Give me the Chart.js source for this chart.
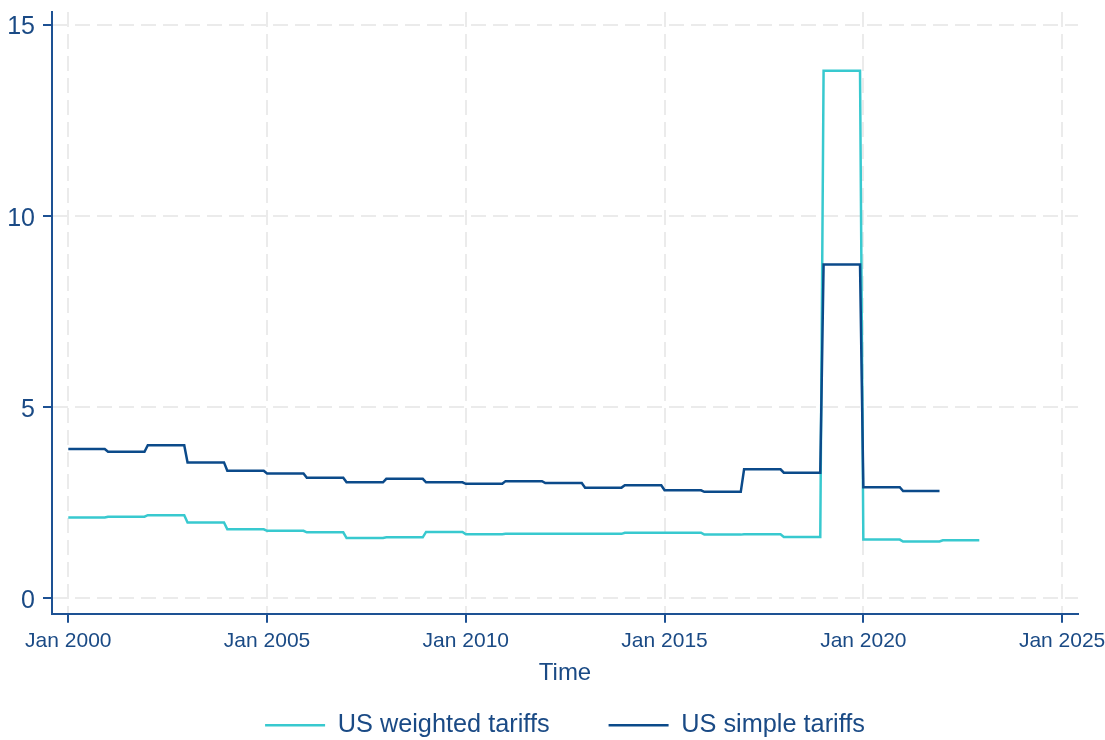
<!DOCTYPE html>
<html>
<head>
<meta charset="utf-8">
<script src="https://cdn.jsdelivr.net/npm/chart.js@4.4.1/dist/chart.umd.min.js"></script>
<style>
    html, body { margin: 0; padding: 0; background: #ffffff; }
    #wrap { width: 1105px; height: 740px; }
</style>
</head>
<body>
<div id="wrap"><canvas id="chart"></canvas></div>
<script>
// yearly tariff rates (%), one value per calendar year
const weightedYears = [2000, 2001, 2002, 2003, 2004, 2005, 2006, 2007, 2008, 2009, 2010, 2011,
    2012, 2013, 2014, 2015, 2016, 2017, 2018, 2019, 2020, 2021, 2022];
const weightedTariffs = [2.10, 2.12, 2.16, 1.97, 1.79, 1.75, 1.71, 1.56, 1.58, 1.72, 1.66, 1.67,
    1.67, 1.67, 1.70, 1.70, 1.65, 1.66, 1.59, 13.79, 1.52, 1.47, 1.50];

const simpleYears = [2000, 2001, 2002, 2003, 2004, 2005, 2006, 2007, 2008, 2009, 2010, 2011,
    2012, 2013, 2014, 2015, 2016, 2017, 2018, 2019, 2020, 2021];
const simpleTariffs = [3.89, 3.82, 3.99, 3.54, 3.32, 3.25, 3.14, 3.02, 3.11, 3.02, 2.98, 3.05,
    3.00, 2.88, 2.94, 2.81, 2.77, 3.36, 3.27, 8.72, 2.89, 2.79];

const xTicks = [2000, 2005, 2010, 2015, 2020, 2025];
const yTicks = [0, 5, 10, 15];

const axisBlue = "#1d5193";
const textBlue = "#1a4a85";
const gridGrey = "#ebebeb";
const fontFamily = "'Liberation Sans', Arial, sans-serif";

// each yearly value holds from January to December of that year
function yearPoints(years, values) {
    const pts = [];
    years.forEach((yr, i) => {
        pts.push({ x: yr, y: values[i] });
        pts.push({ x: yr + 11 / 12, y: values[i] });
    });
    return pts;
}

new Chart(document.getElementById("chart"), {
    type: "line",
    data: {
        datasets: [
            {
                label: "US weighted tariffs",
                data: yearPoints(weightedYears, weightedTariffs),
                borderColor: "#38c9cf",
                backgroundColor: "#38c9cf",
                borderWidth: 2.5,
                pointRadius: 0,
                tension: 0,
                order: 1
            },
            {
                label: "US simple tariffs",
                data: yearPoints(simpleYears, simpleTariffs),
                borderColor: "#0b4a8a",
                backgroundColor: "#0b4a8a",
                borderWidth: 2.5,
                pointRadius: 0,
                tension: 0,
                order: 0
            }
        ]
    },
    options: {
        responsive: true,
        maintainAspectRatio: false,
        animation: false,
        layout: {
            padding: { left: 0, right: 27, top: 12, bottom: -8 }
        },
        plugins: {
            tooltip: { enabled: false },
            legend: {
                position: "bottom",
                fullSize: false,
                labels: {
                    usePointStyle: true,
                    pointStyle: "line",
                    pointStyleWidth: 60,
                    padding: 59,
                    color: textBlue,
                    font: { family: fontFamily, size: 25.3 },
                    sort: (a, b) => a.datasetIndex - b.datasetIndex
                }
            }
        },
        scales: {
            x: {
                type: "linear",
                min: 1999.59,
                max: 2025.40,
                afterBuildTicks: (scale) => {
                    scale.ticks = xTicks.map(v => ({ value: v }));
                },
                afterFit: (scale) => {
                    scale.height = 40;
                    scale.paddingLeft = 0;
                    scale.paddingRight = 0;
                },
                ticks: {
                    color: textBlue,
                    padding: 6,
                    maxRotation: 0,
                    font: { family: fontFamily, size: 21 },
                    callback: (v) => "Jan " + v
                },
                grid: {
                    color: gridGrey,
                    lineWidth: 2,
                    tickColor: axisBlue,
                    tickLength: 9,
                    tickWidth: 2
                },
                border: {
                    color: axisBlue,
                    width: 2,
                    dash: [15, 7]
                },
                title: {
                    display: true,
                    text: "Time",
                    color: textBlue,
                    padding: { top: 0, bottom: -34 },
                    font: { family: fontFamily, size: 24 }
                }
            },
            y: {
                min: -0.42,
                max: 15.33,
                afterBuildTicks: (scale) => {
                    scale.ticks = yTicks.map(v => ({ value: v }));
                },
                afterFit: (scale) => {
                    scale.width = 52;
                    scale.paddingTop = 0;
                    scale.paddingBottom = 0;
                },
                ticks: {
                    color: textBlue,
                    padding: 8,
                    labelOffset: 3,
                    font: { family: fontFamily, size: 25 }
                },
                grid: {
                    color: gridGrey,
                    lineWidth: 2,
                    tickColor: axisBlue,
                    tickLength: 9,
                    tickWidth: 2
                },
                border: {
                    color: axisBlue,
                    width: 2,
                    dash: [15, 7]
                }
            }
        }
    }
});
</script>
</body>
</html>
